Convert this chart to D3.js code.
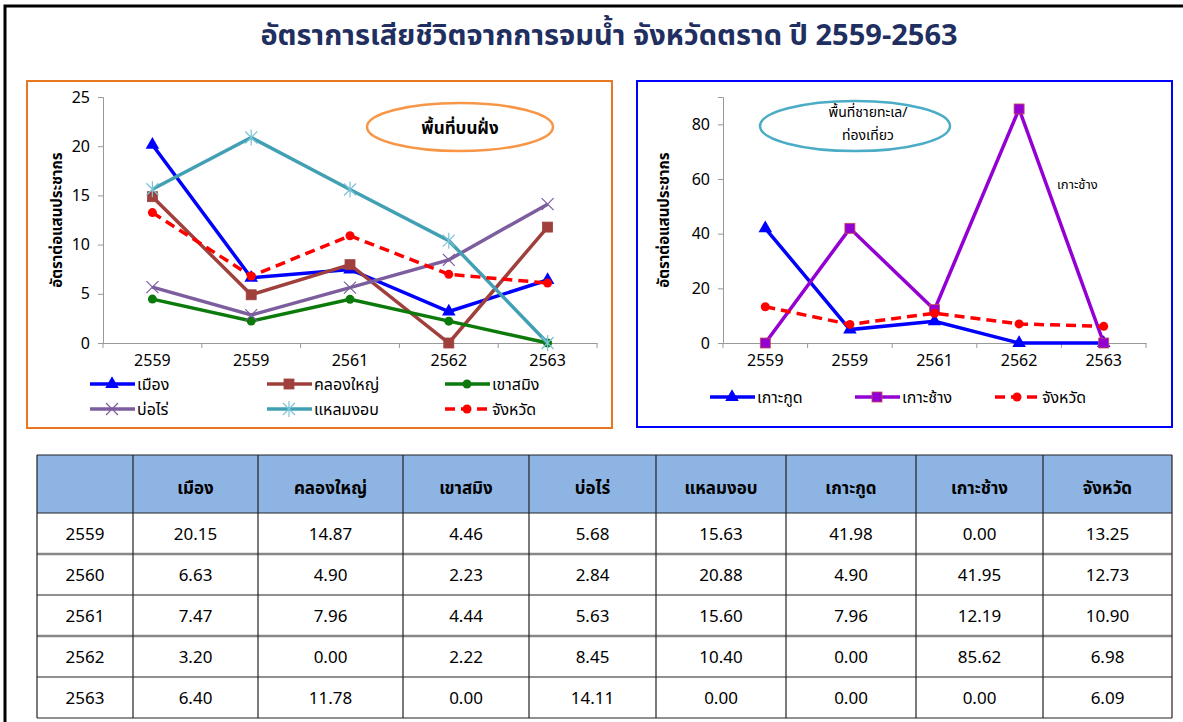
<!DOCTYPE html>
<html>
<head>
<meta charset="utf-8">
<script src="https://cdn.jsdelivr.net/npm/d3@7"></script>
<style>
  body { margin: 0; background: #fff; }
  text { font-family: Tahoma, "Noto Sans Thai", "Leelawadee UI", "DejaVu Sans", sans-serif; }
</style>
</head>
<body>
<svg id="chart" width="1183" height="722"></svg>
<script>
// ----- data -----
const years = ["2559", "2560", "2561", "2562", "2563"];
const xLabels = ["2559", "2559", "2561", "2562", "2563"]; // as printed on the charts

const muang = [20.15, 6.63, 7.47, 3.20, 6.40];
const khlongYai = [14.87, 4.90, 7.96, 0.00, 11.78];
const khaoSaming = [4.46, 2.23, 4.44, 2.22, 0.00];
const boRai = [5.68, 2.84, 5.63, 8.45, 14.11];
const laemNgop = [15.63, 20.88, 15.60, 10.40, 0.00];
const kohKood = [41.98, 4.90, 7.96, 0.00, 0.00];
const kohChang = [0.00, 41.95, 12.19, 85.62, 0.00];
const province = [13.25, 12.73, 10.90, 6.98, 6.09];
const provincePlotted = [13.25, 6.8, 10.90, 6.98, 6.09]; // dashed line as drawn

const tableHeaders = ["", "เมือง", "คลองใหญ่", "เขาสมิง", "บ่อไร่", "แหลมงอบ", "เกาะกูด", "เกาะช้าง", "จังหวัด"];

const svg = d3.select("#chart");

// outer frame
svg.append("rect").attr("x", 5).attr("y", 6).attr("width", 1190).attr("height", 730)
  .attr("fill", "none").attr("stroke", "#000").attr("stroke-width", 3);

svg.append("text")
  .attr("x", 609).attr("y", 45)
  .attr("text-anchor", "middle")
  .attr("fill", "#1f2f5f")
  .attr("font-weight", "bold")
  .attr("font-size", "29px")
  .text("อัตราการเสียชีวิตจากการจมน้ำ  จังหวัดตราด ปี 2559-2563");

// ----- marker helpers -----
function drawMarker(g, type, x, y, color, fill) {
  if (type === "triangle") {
    g.append("path").attr("d", d3.symbol(d3.symbolTriangle, 80)())
      .attr("transform", `translate(${x},${y})`).attr("fill", fill || color);
  } else if (type === "square") {
    g.append("rect").attr("x", x - 5).attr("y", y - 5).attr("width", 10).attr("height", 10)
      .attr("fill", fill || color).attr("stroke", color).attr("stroke-width", 0.8);
  } else if (type === "circle") {
    g.append("circle").attr("cx", x).attr("cy", y).attr("r", 4.5).attr("fill", fill || color);
  } else if (type === "x") {
    g.append("path").attr("d", `M${x - 6},${y - 6}L${x + 6},${y + 6}M${x - 6},${y + 6}L${x + 6},${y - 6}`)
      .attr("stroke", color).attr("stroke-width", 1.2);
  } else if (type === "star") {
    g.append("path").attr("d", `M${x - 6},${y - 6}L${x + 6},${y + 6}M${x - 6},${y + 6}L${x + 6},${y - 6}M${x},${y - 8}L${x},${y + 8}`)
      .attr("stroke", color).attr("stroke-width", 1.2);
  }
}

function lineChart(opts) {
  const g = svg.append("g");
  g.append("rect").attr("x", opts.box[0]).attr("y", opts.box[1])
    .attr("width", opts.box[2]).attr("height", opts.box[3])
    .attr("fill", "#fff").attr("stroke", opts.boxColor).attr("stroke-width", 2);

  const x = d3.scaleBand().domain(d3.range(years.length)).range([opts.x0, opts.x1]);
  const y = d3.scaleLinear().domain(opts.yDomain).range([opts.y0, opts.y1]);

  // axes
  const ya = g.append("g").attr("transform", `translate(${opts.x0},0)`)
    .call(d3.axisLeft(y).tickValues(opts.yTicks).tickSize(5).tickPadding(8));
  const xa = g.append("g").attr("transform", `translate(0,${opts.y0})`)
    .call(d3.axisBottom(x).tickFormat(i => xLabels[i]).tickSize(0).tickPadding(12));
  [ya, xa].forEach(a => {
    a.select(".domain").attr("stroke", "#999");
    a.selectAll("line").attr("stroke", "#999");
    a.selectAll("text").attr("font-size", "16px").attr("fill", "#000")
      .attr("font-family", "Tahoma, 'DejaVu Sans', sans-serif");
  });
  // category separators on x axis
  g.selectAll("line.sep").data(d3.range(years.length + 1)).join("line")
    .attr("x1", i => opts.x0 + i * x.step()).attr("x2", i => opts.x0 + i * x.step())
    .attr("y1", opts.y0).attr("y2", opts.y0 + 5).attr("stroke", "#999");

  g.append("text")
    .attr("transform", `translate(${opts.titleX},${(opts.y0 + opts.y1) / 2}) rotate(-90)`)
    .attr("text-anchor", "middle").attr("font-weight", "bold").attr("font-size", "15px")
    .text("อัตราต่อแสนประชากร");

  const cx = i => x(i) + x.bandwidth() / 2;
  opts.series.forEach(s => {
    g.append("path").datum(s.values)
      .attr("d", d3.line().x((d, i) => cx(i)).y(d => y(d)))
      .attr("fill", "none").attr("stroke", s.color).attr("stroke-width", 3.5)
      .attr("stroke-dasharray", s.dash || null);
    s.values.forEach((d, i) => drawMarker(g, s.marker, cx(i), y(d), s.markerColor || s.color, s.markerFill));
  });

  // legend
  opts.series.forEach(s => {
    const [lx, ly] = s.legend;
    g.append("line").attr("x1", lx).attr("x2", lx + 45).attr("y1", ly).attr("y2", ly)
      .attr("stroke", s.color).attr("stroke-width", 3.5).attr("stroke-dasharray", s.dash || null);
    drawMarker(g, s.marker, lx + 22, ly, s.markerColor || s.color, s.markerFill);
    g.append("text").attr("x", lx + 47).attr("y", ly + 6).attr("font-size", "16px").text(s.name);
  });
  return g;
}

// ----- left chart -----
const left = lineChart({
  box: [27, 81, 585, 347], boxColor: "#E87722",
  x0: 103, x1: 597, y0: 343, y1: 97, yDomain: [0, 25], yTicks: [0, 5, 10, 15, 20, 25],
  titleX: 62,
  series: [
    { name: "เมือง", values: muang, color: "#0000FF", marker: "triangle", legend: [90, 384] },
    { name: "คลองใหญ่", values: khlongYai, color: "#A0403D", marker: "square", legend: [267, 384] },
    { name: "เขาสมิง", values: khaoSaming, color: "#0B7A0B", marker: "circle", legend: [445, 384] },
    { name: "บ่อไร่", values: boRai, color: "#7C5E9E", marker: "x", legend: [90, 409] },
    { name: "แหลมงอบ", values: laemNgop, color: "#42A0B5", marker: "star", markerColor: "#7CC3D6", legend: [267, 409] },
    { name: "จังหวัด", values: provincePlotted, color: "#FF0000", marker: "circle", dash: "10,6", legend: [445, 409] }
  ]
});
left.append("ellipse").attr("cx", 460).attr("cy", 127).attr("rx", 93).attr("ry", 24)
  .attr("fill", "none").attr("stroke", "#F79646").attr("stroke-width", 2.5);
left.append("text").attr("x", 460).attr("y", 134).attr("text-anchor", "middle")
  .attr("font-weight", "bold").attr("font-size", "17px").text("พื้นที่บนฝั่ง");

// ----- right chart -----
const right = lineChart({
  box: [637, 81, 535, 346], boxColor: "#0000FF",
  x0: 723, x1: 1146, y0: 343, y1: 97, yDomain: [0, 90], yTicks: [0, 20, 40, 60, 80],
  titleX: 669,
  series: [
    { name: "เกาะกูด", values: kohKood, color: "#0000FF", marker: "triangle", legend: [710, 397] },
    { name: "เกาะช้าง", values: kohChang, color: "#9400D3", marker: "square", markerColor: "#C0504D", markerFill: "#9400D3", legend: [855, 397] },
    { name: "จังหวัด", values: provincePlotted, color: "#FF0000", marker: "circle", dash: "10,6", markerFill: "#FF0000", legend: [995, 397] }
  ]
});
right.append("ellipse").attr("cx", 855).attr("cy", 126).attr("rx", 95).attr("ry", 25)
  .attr("fill", "none").attr("stroke", "#4BACC6").attr("stroke-width", 2.5);
right.append("text").attr("x", 868).attr("y", 117).attr("text-anchor", "middle")
  .attr("font-size", "14px").text("พื้นที่ชายทะเล/");
right.append("text").attr("x", 868).attr("y", 140).attr("text-anchor", "middle")
  .attr("font-size", "14px").text("ท่องเที่ยว");
right.append("text").attr("x", 1057).attr("y", 189).attr("font-size", "13px").text("เกาะช้าง");

// ----- table -----
const colEdges = [37, 133, 258, 403, 529, 656, 786, 916, 1043, 1172];
const rowEdges = [455, 513, 554, 595, 636, 677, 718];
const tableRows = years.map((yr, i) => [yr, muang[i], khlongYai[i], khaoSaming[i], boRai[i], laemNgop[i], kohKood[i], kohChang[i], province[i]]);
const t = svg.append("g");
t.append("rect").attr("x", colEdges[0]).attr("y", rowEdges[0])
  .attr("width", colEdges[9] - colEdges[0]).attr("height", rowEdges[1] - rowEdges[0])
  .attr("fill", "#8DB4E2");
t.selectAll("text.h").data(tableHeaders).join("text")
  .attr("x", (d, i) => (colEdges[i] + colEdges[i + 1]) / 2).attr("y", 494)
  .attr("text-anchor", "middle").attr("font-weight", "bold").attr("font-size", "17px")
  .text(d => d);
tableRows.forEach((row, r) => {
  row.forEach((v, c) => {
    t.append("text")
      .attr("x", (colEdges[c] + colEdges[c + 1]) / 2)
      .attr("y", (rowEdges[r + 1] + rowEdges[r + 2]) / 2 + 6)
      .attr("text-anchor", "middle").attr("font-size", "17px")
      .text(c === 0 ? v : d3.format(".2f")(v));
  });
});
rowEdges.forEach((yy, i) => {
  t.append("line").attr("x1", colEdges[0]).attr("x2", colEdges[9]).attr("y1", yy).attr("y2", yy)
    .attr("stroke", i === 2 || i === 4 ? "#888" : "#222").attr("stroke-width", i === 2 || i === 4 ? 2.5 : 1.2);
});
colEdges.forEach(xx => {
  t.append("line").attr("x1", xx).attr("x2", xx).attr("y1", rowEdges[0]).attr("y2", rowEdges[6])
    .attr("stroke", "#222").attr("stroke-width", 1.2);
});
</script>
</body>
</html>
